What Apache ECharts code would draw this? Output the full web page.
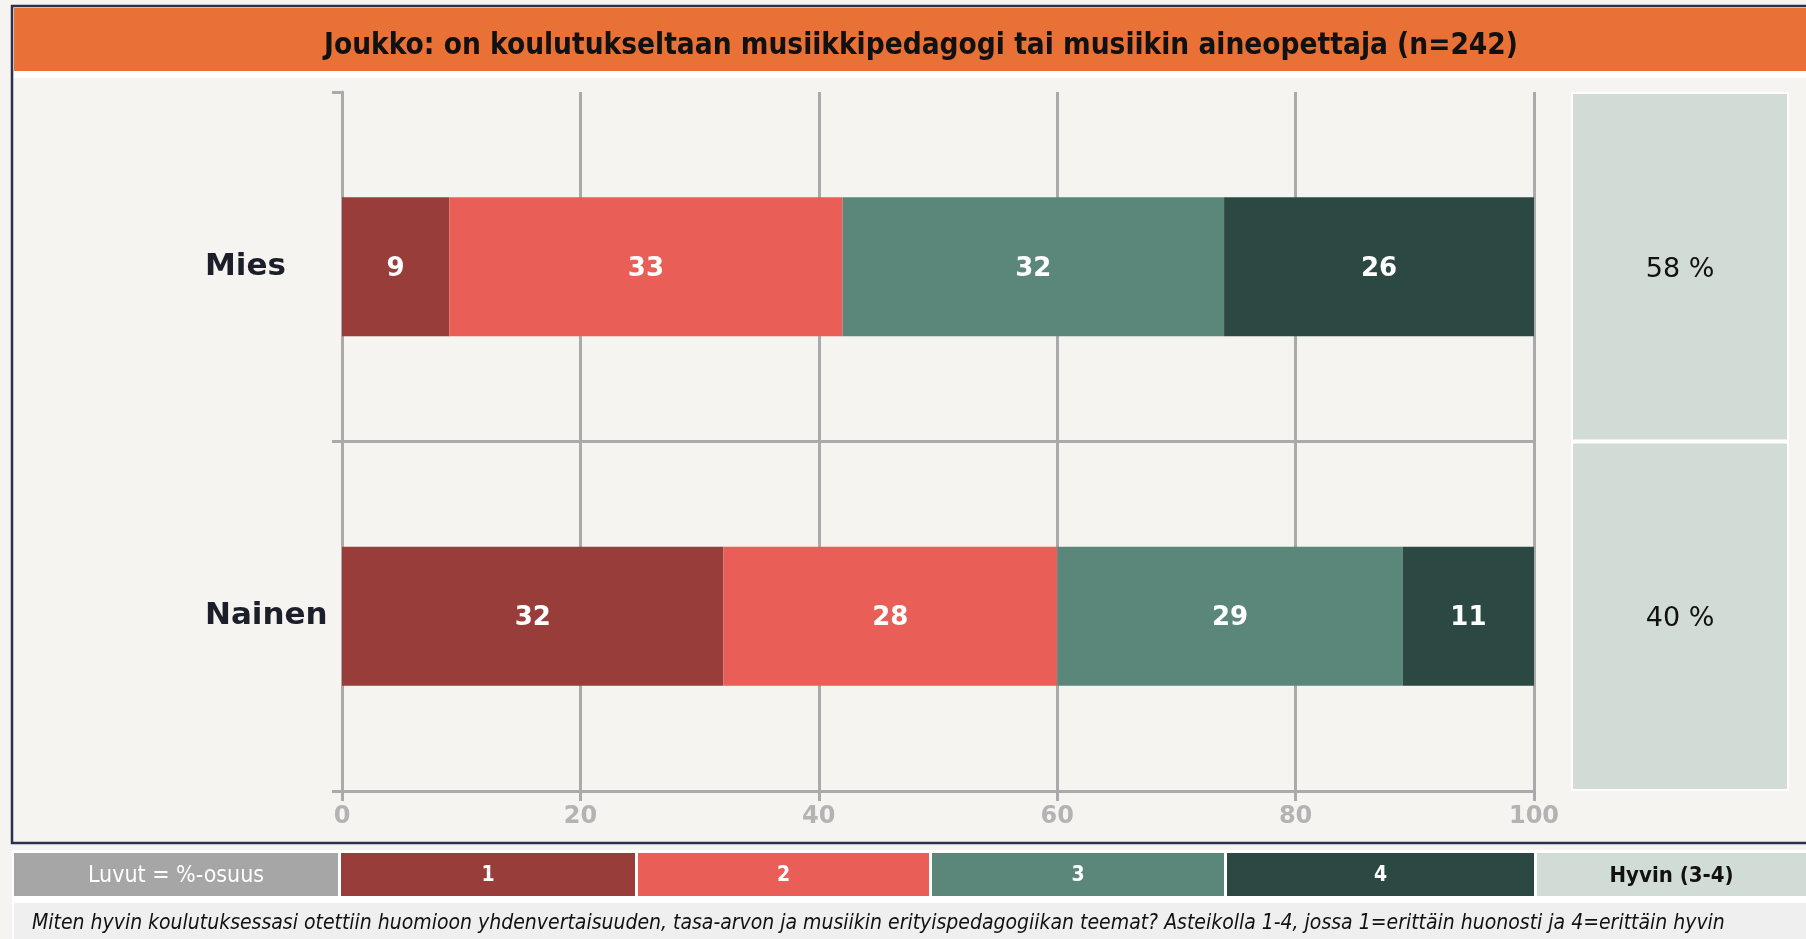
<!DOCTYPE html>
<html>
<head>
<meta charset="utf-8">
<script src="https://cdn.jsdelivr.net/npm/echarts@6/dist/echarts.min.js"></script>
<style>
html,body{margin:0;padding:0;background:#f5f4f0;}
#main{width:1806px;height:939px;}
</style>
</head>
<body>
<div id="main"></div>
<script>
// data
var categories = ['Mies', 'Nainen'];
var seriesNames = ['1', '2', '3', '4'];
var values1 = [9, 32];
var values2 = [33, 28];
var values3 = [32, 29];
var values4 = [26, 11];
var hyvin = [58, 40];   // Hyvin (3-4) %
var titleText = 'Joukko: on koulutukseltaan musiikkipedagogi tai musiikin aineopettaja (n=242)';
var unitText = 'Luvut = %-osuus';
var hyvinText = 'Hyvin (3-4)';
var footText = 'Miten hyvin koulutuksessasi otettiin huomioon yhdenvertaisuuden, tasa-arvon ja musiikin erityispedagogiikan teemat? Asteikolla 1-4, jossa 1=erittäin huonosti ja 4=erittäin hyvin';

var colors = ['#983d3a', '#e95e56', '#5a877a', '#2b4843'];
var grey = '#aaaaaa';
var font = '"DejaVu Sans", Verdana, sans-serif';
var condFont = '"DejaVu Sans Condensed", "DejaVu Sans", sans-serif';

var chart = echarts.init(document.getElementById('main'));

function barSeries(name, data, i) {
    return {
        name: name,
        type: 'bar',
        stack: 'total',
        barWidth: 139,
        data: data,
        itemStyle: { color: colors[i] },
        label: {
            show: true,
            position: 'inside',
            offset: [0, 2],
            color: '#fff',
            fontSize: 26,
            fontWeight: 'bold',
            fontFamily: font
        }
    };
}

// legend row cells (x, width)
var legendCells = [
    { x: 14, w: 324, fill: '#a6a6a6', text: unitText, color: '#fff', weight: 'normal', size: 23 },
    { x: 341, w: 294, fill: colors[0], text: seriesNames[0], color: '#fff', weight: 'bold', size: 21 },
    { x: 638, w: 291, fill: colors[1], text: seriesNames[1], color: '#fff', weight: 'bold', size: 21 },
    { x: 932, w: 292, fill: colors[2], text: seriesNames[2], color: '#fff', weight: 'bold', size: 21 },
    { x: 1227, w: 307, fill: colors[3], text: seriesNames[3], color: '#fff', weight: 'bold', size: 21 },
    { x: 1537, w: 269, fill: '#d2dcd7', text: hyvinText, color: '#111', weight: 'bold', size: 22 }
];

var graphics = [
    { type: 'rect', z: -10, shape: { x: 12, y: 6, width: 1800, height: 837 },
      style: { fill: '#f5f4f0', stroke: '#2a3150', lineWidth: 2.5 } },
    { type: 'rect', z: -9, shape: { x: 14, y: 8, width: 1792, height: 63 }, style: { fill: '#e97135' } },
    { type: 'rect', z: -9, shape: { x: 14, y: 71, width: 1792, height: 7 }, style: { fill: '#ffffff' } },
    { type: 'rect', z: -9, shape: { x: 12, y: 850, width: 1794, height: 89 }, style: { fill: '#ffffff' } },
    { type: 'rect', z: -8, shape: { x: 14, y: 903, width: 1792, height: 36 }, style: { fill: '#efefef' } },
    { type: 'text', z: 5, x: 32, y: 924,
      style: { text: footText, fill: '#111', font: 'italic 21px ' + condFont, verticalAlign: 'middle' } }
];
legendCells.forEach(function (c) {
    graphics.push({ type: 'rect', z: -8, shape: { x: c.x, y: 853, width: c.w, height: 43 }, style: { fill: c.fill } });
    graphics.push({ type: 'text', z: 5, x: c.x + c.w / 2, y: 876,
        style: { text: c.text, fill: c.color, font: c.weight + ' ' + c.size + 'px ' + condFont,
                 align: 'center', verticalAlign: 'middle' } });
});

chart.setOption({
    backgroundColor: '#f5f4f0',
    animation: false,
    title: {
        text: titleText,
        left: 916,
        top: 26,
        textAlign: 'center',
        textStyle: { fontSize: 29.5, fontWeight: 'bold', color: '#111', fontFamily: condFont }
    },
    graphic: graphics,
    grid: [
        { left: 342, top: 92, width: 1192, height: 699 },
        { left: 1571, top: 92, width: 218, height: 699 }
    ],
    xAxis: [
        {
            type: 'value', min: 0, max: 100, interval: 20,
            axisLine: { show: true, lineStyle: { color: grey, width: 3 } },
            axisTick: { show: true, length: 10, lineStyle: { color: grey, width: 3 } },
            splitLine: { show: true, lineStyle: { color: grey, width: 3 } },
            axisLabel: { color: '#b3b3b3', fontSize: 24, fontWeight: 'bold', margin: 14, fontFamily: font }
        },
        { gridIndex: 1, type: 'value', min: 0, max: 1, show: false }
    ],
    yAxis: [
        {
            type: 'category', data: categories, inverse: true,
            axisLine: { show: true, lineStyle: { color: grey, width: 3 } },
            axisTick: { show: true, length: 10, lineStyle: { color: grey, width: 3 } },
            splitLine: { show: true, showMinLine: false, showMaxLine: false,
                         lineStyle: { color: grey, width: 3 } },
            axisLabel: { align: 'left', margin: 137, fontSize: 31, fontWeight: 'bold',
                         color: '#1c1f2a', fontFamily: font, padding: [4, 0, 0, 0] }
        },
        { gridIndex: 1, type: 'category', data: categories, inverse: true, show: false }
    ],
    series: [
        barSeries(seriesNames[0], values1, 0),
        barSeries(seriesNames[1], values2, 1),
        barSeries(seriesNames[2], values3, 2),
        barSeries(seriesNames[3], values4, 3),
        {
            // Hyvin (3-4) boxes on the right
            type: 'bar',
            xAxisIndex: 1,
            yAxisIndex: 1,
            barWidth: '100%',
            data: hyvin.map(function () { return 1; }),
            itemStyle: { color: '#d2dcd7', borderColor: '#ffffff', borderWidth: 2 },
            label: {
                show: true,
                position: 'inside',
                offset: [0, 3],
                color: '#111',
                fontSize: 27,
                fontFamily: font,
                formatter: function (p) { return hyvin[p.dataIndex] + ' %'; }
            }
        }
    ]
});
</script>
</body>
</html>
